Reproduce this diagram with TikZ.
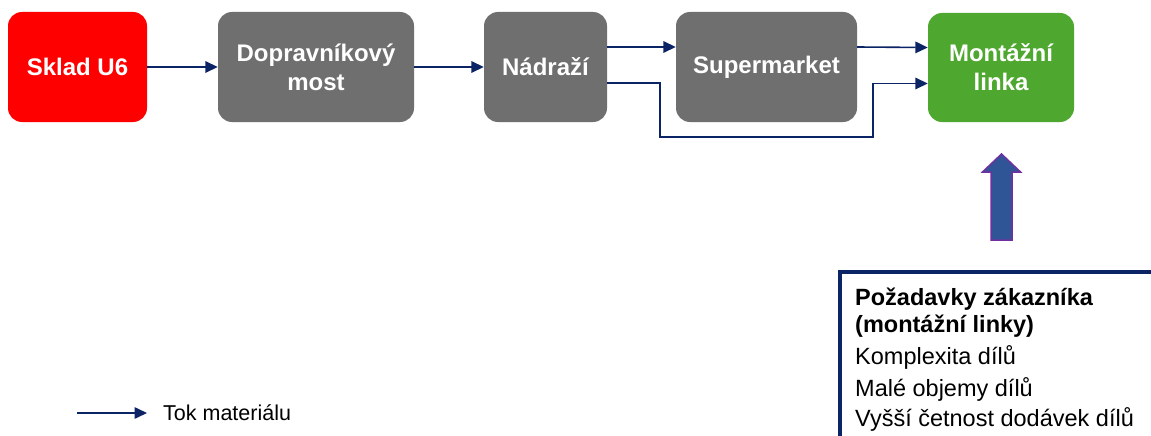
\documentclass[tikz,border=0pt]{standalone}
\usepackage{fontspec}
\setmainfont{Liberation Sans}
\usetikzlibrary{arrows.meta}

\definecolor{navy}{HTML}{0B2466}
\definecolor{stagegray}{HTML}{6F6F6F}
\definecolor{stagered}{HTML}{FF0000}
\definecolor{stagegreen}{HTML}{4EA72E}
\definecolor{pushblue}{HTML}{2F5597}
\definecolor{pushedge}{HTML}{7030A0}

\begin{document}
\begin{tikzpicture}[x=1pt,y=-1pt,
  flow/.style={draw=navy, line width=1.6pt, -{Triangle[length=12.5pt,width=11.5pt]}},
  stage/.style={rounded corners=14pt, minimum height=110pt, inner sep=0pt,
    text=white, align=center, font=\fontsize{24}{29}\selectfont\bfseries},
  note/.style={anchor=base west, inner sep=0pt, text=black},
]
\useasboundingbox (0,0) rectangle (1151,436);
\fill[white] (0,0) rectangle (1151,436);

% process stages
\node[stage, fill=stagered,   minimum width=139pt] (sklad)   at (77.5,67)  {Sklad U6};
\node[stage, fill=stagegray,  minimum width=196pt] (most)    at (316,67)   {Dopravníkový\\most};
\node[stage, fill=stagegray,  minimum width=123pt] (nadrazi) at (545.5,67) {Nádraží};
\node[stage, fill=stagegray,  minimum width=181pt] (super)   at (766.5,67) {Supermarket};
\node[stage, fill=stagegreen, minimum width=146pt, minimum height=109pt] (linka) at (1001,67.5) {Montážní\\linka};

% material flow
\draw[flow] (sklad) -- (most);
\draw[flow] (most) -- (nadrazi);
\draw[flow] ([yshift=20pt]nadrazi.east) -- ([yshift=20pt]super.west);
\draw[flow] ([yshift=20pt]super.east) -- ([yshift=20pt]linka.west);
\coordinate (bypassA) at (660,137);
\coordinate (bypassB) at (873,137);
\draw[flow] ([yshift=-16pt]nadrazi.east) -| (bypassA) -- (bypassB) |- ([yshift=-16pt]linka.west);

% customer pull arrow
\filldraw[fill=pushblue, draw=pushedge, line width=1.5pt, line join=miter]
  (991,240) -- (991,172) -- (982.5,172) -- (1001.5,154) -- (1020.5,172)
  -- (1012,172) -- (1012,240) -- cycle;

% customer requirements panel
\begin{scope}
\clip (0,0) rectangle (1151,436);
\draw[navy, line width=4pt] (1160,272) -- (840,272) -- (840,450);
\end{scope}
\node[note, font=\fontsize{23.5}{24}\selectfont\bfseries] (req1) at (855,305) {Požadavky zákazníka};
\node[note, font=\fontsize{23.5}{24}\selectfont\bfseries] (req2) at (855,332) {(montážní linky)};
\node[note, font=\fontsize{23.5}{24}\selectfont] (req3) at (855,364) {Komplexita dílů};
\node[note, font=\fontsize{23.5}{24}\selectfont] (req4) at (855,396) {Malé objemy dílů};
\node[note, font=\fontsize{23.5}{24}\selectfont] (req5) at (855,426) {Vyšší četnost dodávek dílů};

% legend
\coordinate (legA) at (77,413);
\coordinate (legB) at (147,413);
\draw[flow] (legA) -- (legB);
\node[anchor=west, inner sep=0pt, font=\fontsize{21.5}{24}\selectfont] (legtext) at (163,413) {Tok materiálu};
\end{tikzpicture}
\end{document}
